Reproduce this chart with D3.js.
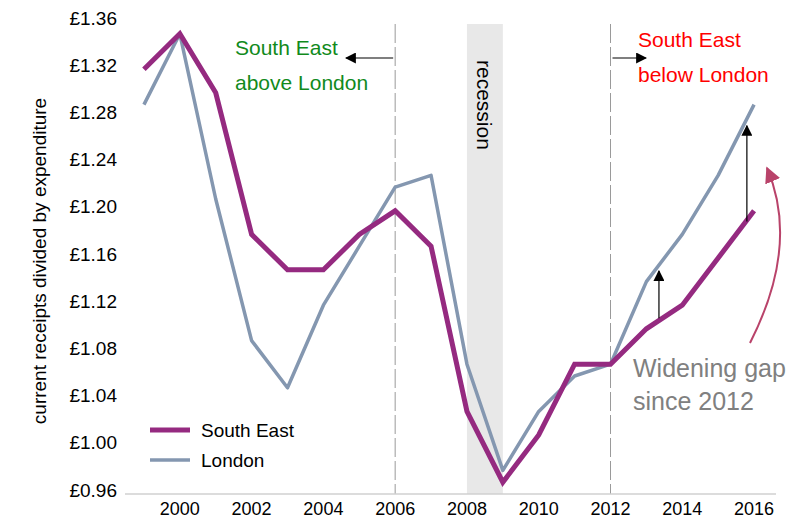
<!DOCTYPE html>
<html>
<head>
<meta charset="utf-8">
<script src="https://cdn.jsdelivr.net/npm/d3@7"></script>
<style>
  body { margin: 0; background: #fff; }
  svg text { font-family: "Liberation Sans", Arial, sans-serif; }
</style>
</head>
<body>
<div id="chart"></div>
<script>
// data
const years = [1999, 2000, 2001, 2002, 2003, 2004, 2005, 2006, 2007, 2008,
               2009, 2010, 2011, 2012, 2013, 2014, 2015, 2016];
const southEast = [1.32, 1.35, 1.30, 1.18, 1.15, 1.15, 1.18, 1.20, 1.17, 1.03,
                   0.97, 1.01, 1.07, 1.07, 1.10, 1.12, 1.16, 1.20];
const london = [1.29, 1.35, 1.21, 1.09, 1.05, 1.12, 1.17, 1.22, 1.23, 1.07,
                0.98, 1.03, 1.06, 1.07, 1.14, 1.18, 1.23, 1.29];
const yTicks = [0.96, 1.00, 1.04, 1.08, 1.12, 1.16, 1.20, 1.24, 1.28, 1.32, 1.36];
const xTicks = [2000, 2002, 2004, 2006, 2008, 2010, 2012, 2014, 2016];
const seriesNames = ["South East", "London"];

const width = 804, height = 523;
const svg = d3.select('#chart')
    .append('svg')
    .attr('width', width)
    .attr('height', height);

// scales
const x = d3.scalePoint()
    .domain(years)
    .range([126, 772])
    .padding(0.5);
const xf = yr => x(years[0]) + (yr - years[0]) * x.step();   // fractional years
const y = d3.scaleLinear()
    .domain([0.96, 1.36])
    .range([494, 22]);

const seColor = "#952a80";
const lnColor = "#8497b0";

// arrow markers
const defs = svg.append('defs');
defs.append('marker')
    .attr('id', 'head')
    .attr('viewBox', '0 0 10 10')
    .attr('refX', 9).attr('refY', 5)
    .attr('markerWidth', 11).attr('markerHeight', 11)
    .attr('markerUnits', 'userSpaceOnUse')
    .attr('orient', 'auto')
  .append('path')
    .attr('d', 'M0,0 L10,5 L0,10 Z')
    .attr('fill', '#000');
defs.append('marker')
    .attr('id', 'headRed')
    .attr('viewBox', '0 0 10 10')
    .attr('refX', 9).attr('refY', 5)
    .attr('markerWidth', 16).attr('markerHeight', 16)
    .attr('markerUnits', 'userSpaceOnUse')
    .attr('orient', 'auto')
  .append('path')
    .attr('d', 'M0,0 L10,5 L0,10 Z')
    .attr('fill', '#b9436a');

// recession band
svg.append('rect')
    .attr('x', x(2008))
    .attr('y', 24)
    .attr('width', x(2009) - x(2008))
    .attr('height', y(0.96) - 24)
    .attr('fill', '#e8e8e8');

svg.append('text')
    .attr('transform', `translate(${(x(2008) + x(2009)) / 2 - 8}, 60) rotate(90)`)
    .text('recession')
    .style('font-size', '21px')
    .attr('fill', '#000');

// dashed markers at 2006 and 2012
svg.selectAll('.vline')
    .data([2006, 2012])
    .enter()
    .append('line')
    .attr('class', 'vline')
    .attr('x1', d => x(d)).attr('x2', d => x(d))
    .attr('y1', 24).attr('y2', y(0.96))
    .attr('stroke', '#9a9a9a')
    .attr('stroke-width', 1)
    .style('stroke-dasharray', '19,4');

// x axis baseline
svg.append('line')
    .attr('x1', 125).attr('x2', 776)
    .attr('y1', y(0.96)).attr('y2', y(0.96))
    .attr('stroke', '#d0d0d0')
    .attr('stroke-width', 1.5);

// y tick labels
svg.selectAll('.ytick')
    .data(yTicks)
    .enter()
    .append('text')
    .attr('class', 'ytick')
    .attr('x', 117)
    .attr('y', d => y(d) - 4)
    .attr('text-anchor', 'end')
    .attr('dominant-baseline', 'central')
    .style('font-size', '19px')
    .text(d => '£' + d.toFixed(2));

// x tick labels
svg.selectAll('.xtick')
    .data(xTicks)
    .enter()
    .append('text')
    .attr('class', 'xtick')
    .attr('x', d => x(d))
    .attr('y', 515)
    .attr('text-anchor', 'middle')
    .style('font-size', '18px')
    .text(d => d);

// y axis title
svg.append('text')
    .attr('transform', 'translate(46, 261) rotate(-90)')
    .attr('text-anchor', 'middle')
    .style('font-size', '19px')
    .text('current receipts divided by expenditure');

// lines
const line = d3.line()
    .x((d, i) => x(years[i]))
    .y(d => y(d));

svg.append('path')
    .datum(london)
    .attr('d', line)
    .attr('fill', 'none')
    .attr('stroke', lnColor)
    .attr('stroke-width', 3.5)
    .attr('stroke-linejoin', 'round');
svg.append('path')
    .datum(southEast)
    .attr('d', line)
    .attr('fill', 'none')
    .attr('stroke', seColor)
    .attr('stroke-width', 5)
    .attr('stroke-linejoin', 'miter');

// annotations: horizontal arrows
svg.append('line')
    .attr('x1', x(2006) - 2).attr('x2', 346)
    .attr('y1', 58).attr('y2', 58)
    .attr('stroke', '#000').attr('stroke-width', 1.2)
    .attr('marker-end', 'url(#head)');
svg.append('line')
    .attr('x1', x(2012) + 2).attr('x2', 646)
    .attr('y1', 58).attr('y2', 58)
    .attr('stroke', '#000').attr('stroke-width', 1.2)
    .attr('marker-end', 'url(#head)');

svg.append('text')
    .attr('x', 235).attr('y', 55)
    .attr('fill', '#118a1c')
    .style('font-size', '21px')
    .text('South East');
svg.append('text')
    .attr('x', 235).attr('y', 90)
    .attr('fill', '#118a1c')
    .style('font-size', '21px')
    .text('above London');

svg.append('text')
    .attr('x', 638).attr('y', 47)
    .attr('fill', '#ff0000')
    .style('font-size', '21px')
    .text('South East');
svg.append('text')
    .attr('x', 638).attr('y', 82)
    .attr('fill', '#ff0000')
    .style('font-size', '21px')
    .text('below London');

// gap arrows (in data units)
const gapArrows = [
    {yr: 2013.35, from: 1.109, to: 1.149},
    {yr: 2015.8, from: 1.191, to: 1.272}
];
svg.selectAll('.gap')
    .data(gapArrows)
    .enter()
    .append('line')
    .attr('class', 'gap')
    .attr('x1', d => xf(d.yr)).attr('x2', d => xf(d.yr))
    .attr('y1', d => y(d.from)).attr('y2', d => y(d.to))
    .attr('stroke', '#000').attr('stroke-width', 1.2)
    .attr('marker-end', 'url(#head)');

// widening gap note
svg.append('path')
    .attr('d', 'M750,343 Q800,245 767,168')
    .attr('fill', 'none')
    .attr('stroke', '#b9436a')
    .attr('stroke-width', 2)
    .attr('marker-end', 'url(#headRed)');

svg.append('text')
    .attr('x', 633).attr('y', 377)
    .attr('fill', '#808080')
    .style('font-size', '25px')
    .text('Widening gap');
svg.append('text')
    .attr('x', 633).attr('y', 410)
    .attr('fill', '#808080')
    .style('font-size', '25px')
    .text('since 2012');

// legend
const legend = svg.selectAll('.legend')
    .data(seriesNames)
    .enter()
    .append('g')
    .attr('class', 'legend')
    .attr('transform', (d, i) => `translate(150, ${430 + i * 30})`);
legend.append('line')
    .attr('x1', 0).attr('x2', 40)
    .attr('y1', 0).attr('y2', 0)
    .attr('stroke', (d, i) => i === 0 ? seColor : lnColor)
    .attr('stroke-width', (d, i) => i === 0 ? 5 : 3.5);
legend.append('text')
    .attr('x', 51)
    .attr('y', 0)
    .attr('dominant-baseline', 'central')
    .style('font-size', '19px')
    .text(d => d);
</script>
</body>
</html>
